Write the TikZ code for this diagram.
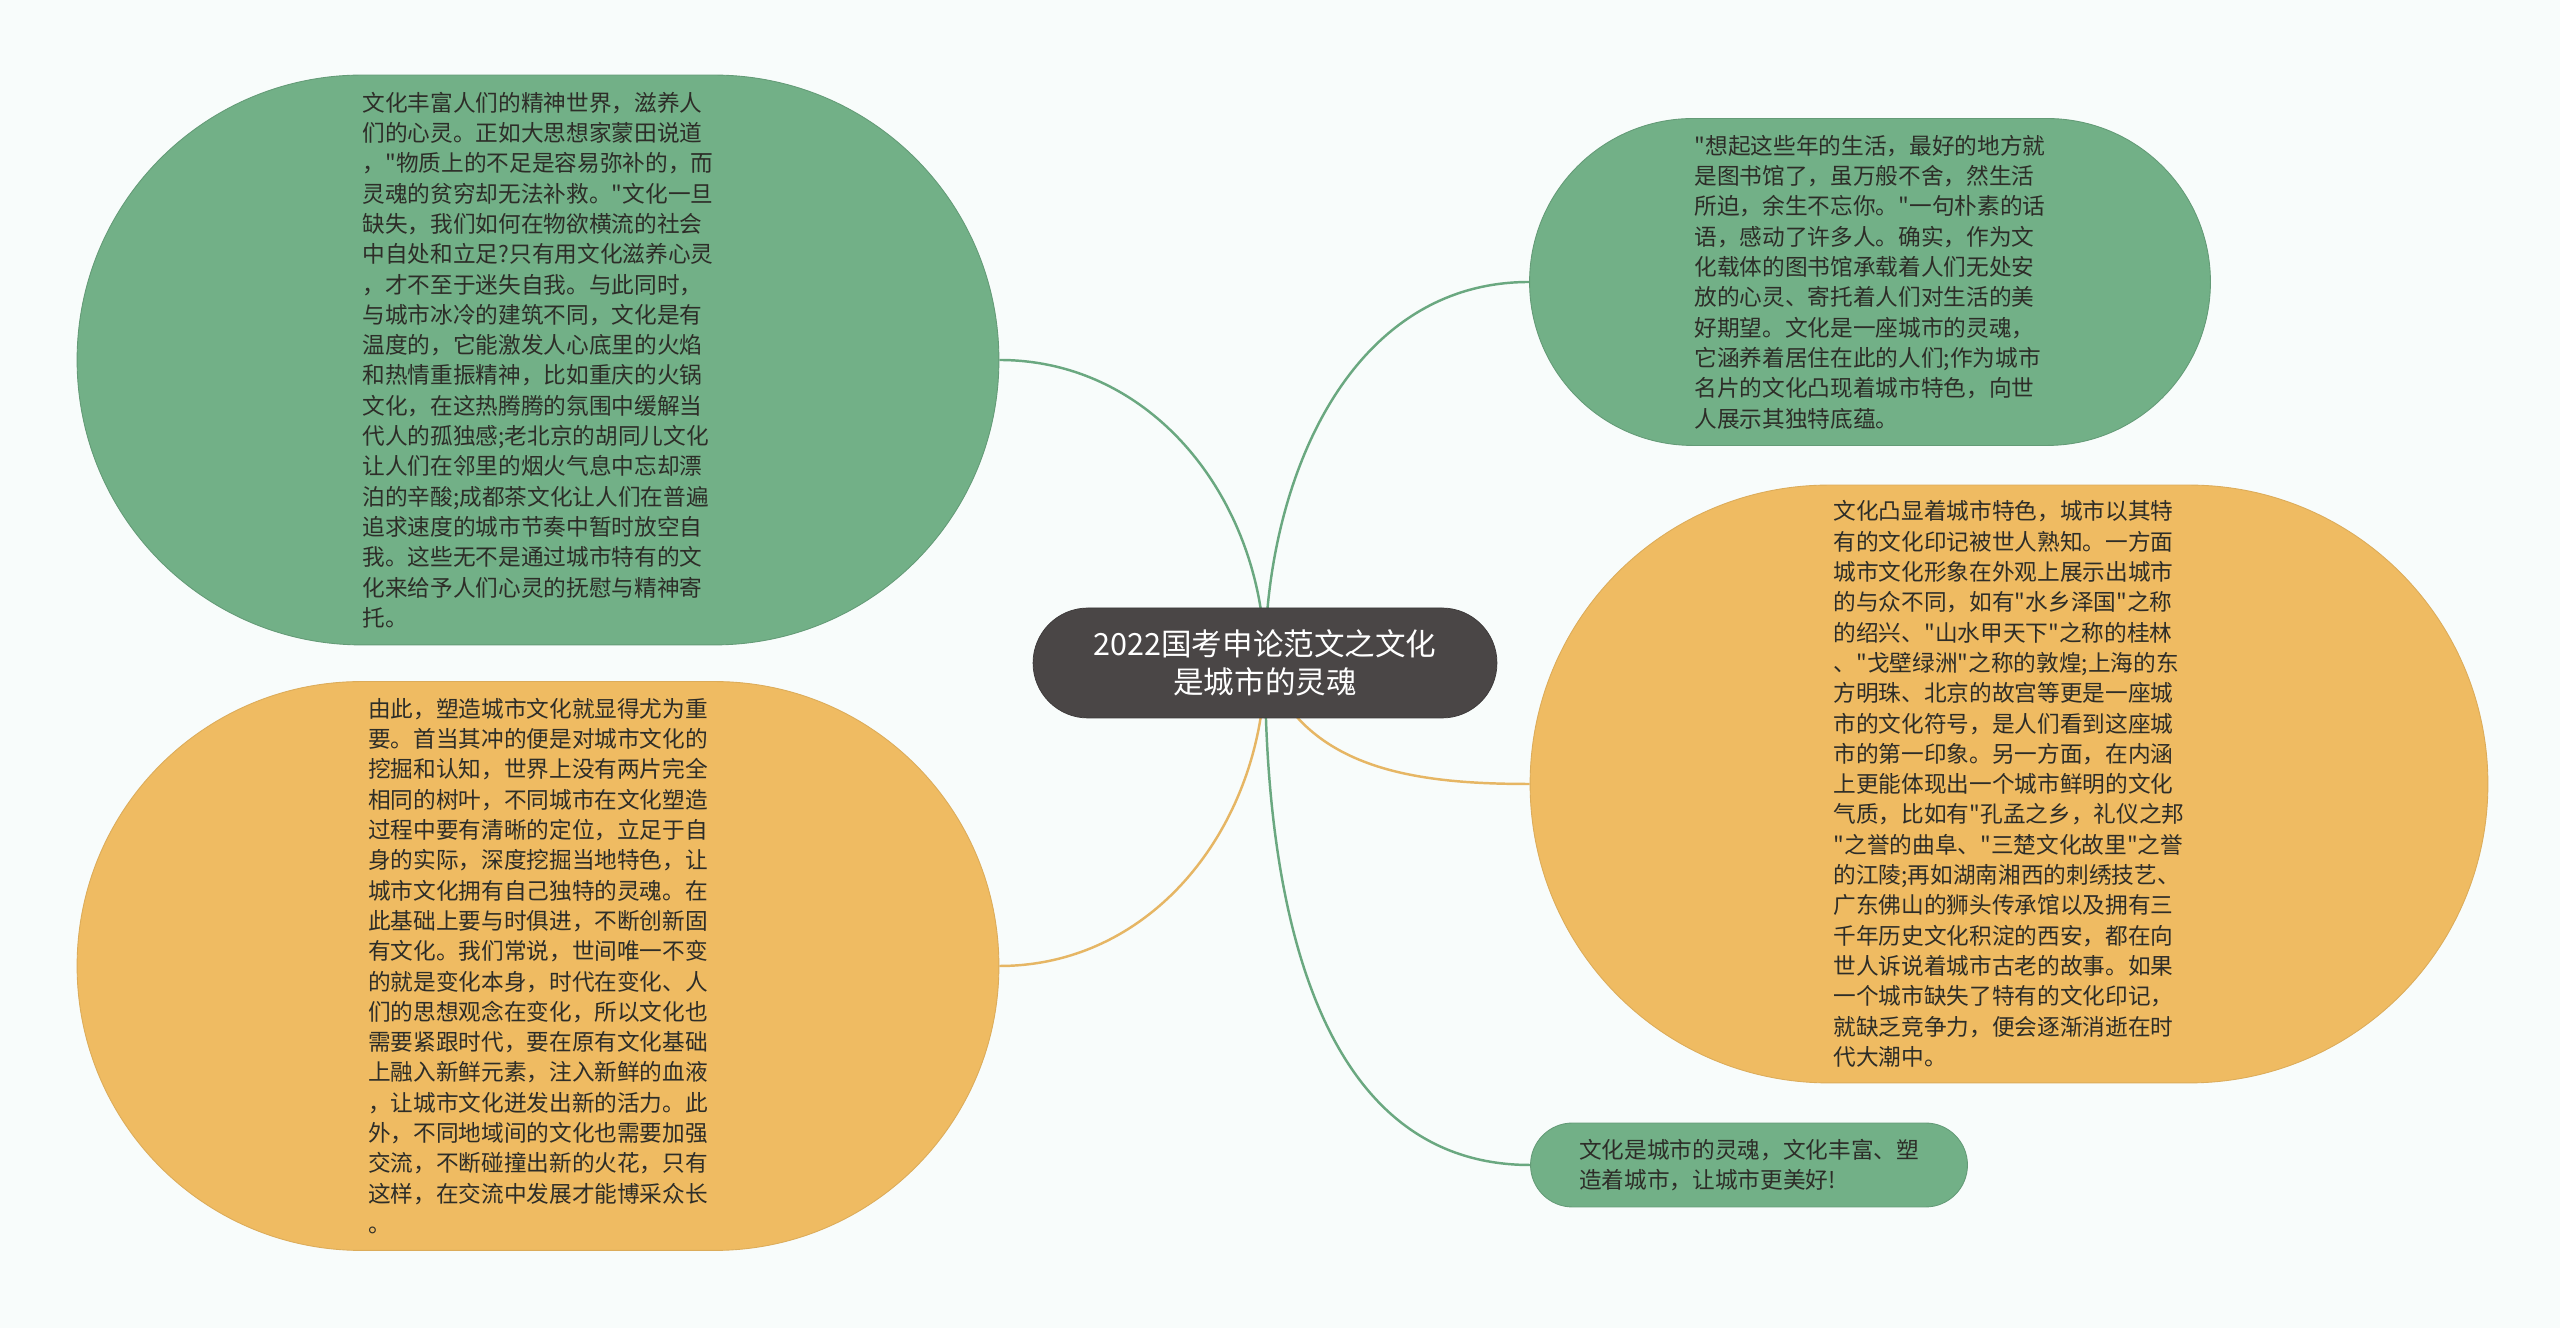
\documentclass[tikz,border=0pt]{standalone}
\usepackage{fontspec}
\setmainfont{Noto Sans CJK SC}[Ligatures=TeXOff]
\usetikzlibrary{shapes.misc, backgrounds}
\definecolor{paper}{RGB}{248,252,251}
\definecolor{leafgreen}{RGB}{114,176,135}
\definecolor{leaforange}{RGB}{239,187,98}
\definecolor{rootgray}{RGB}{74,70,70}
\definecolor{textgray}{RGB}{45,45,40}
\definecolor{linkgreen}{RGB}{106,168,128}
\definecolor{linkorange}{RGB}{230,182,100}

\begin{document}
\begin{tikzpicture}[x=0.02cm, y=0.02cm,
    % Styles
    topic/.style={rounded rectangle, inner sep=0, align=left, text=textgray, font=\fontsize{12.9pt}{17.25pt}\selectfont},
    green topic/.style={topic, fill=leafgreen, draw=leafgreen!88!black, line width=0.5pt},
    orange topic/.style={topic, fill=leaforange, draw=leaforange!92!black, line width=0.5pt},
    main topic/.style={rounded rectangle, inner sep=0, align=center, fill=rootgray, draw=rootgray!80!black, text=white, font=\fontsize{17.4pt}{21.6pt}\selectfont},
    green link/.style={draw=linkgreen, line width=1.4pt},
    orange link/.style={draw=linkorange, line width=1.4pt},
]
    % === Central topic ===
    \node[main topic, minimum width=9.28cm, minimum height=2.2cm] (root) at (1265,665)
        {2022国考申论范文之文化\\是城市的灵魂};

    % === Left branches ===
    \node[green topic, minimum width=18.44cm, minimum height=11.4cm] (soul) at (538,968) {%
        文化丰富人们的精神世界，滋养人\\
        们的心灵。正如大思想家蒙田说道\\
        ，"物质上的不足是容易弥补的，而\\
        灵魂的贫穷却无法补救。"文化一旦\\
        缺失，我们如何在物欲横流的社会\\
        中自处和立足?只有用文化滋养心灵\\
        ，才不至于迷失自我。与此同时，\\
        与城市冰冷的建筑不同，文化是有\\
        温度的，它能激发人心底里的火焰\\
        和热情重振精神，比如重庆的火锅\\
        文化，在这热腾腾的氛围中缓解当\\
        代人的孤独感;老北京的胡同儿文化\\
        让人们在邻里的烟火气息中忘却漂\\
        泊的辛酸;成都茶文化让人们在普遍\\
        追求速度的城市节奏中暂时放空自\\
        我。这些无不是通过城市特有的文\\
        化来给予人们心灵的抚慰与精神寄\\
        托。};
    \node[orange topic, minimum width=18.44cm, minimum height=11.38cm] (shape) at (538,362) {%
        由此，塑造城市文化就显得尤为重\\
        要。首当其冲的便是对城市文化的\\
        挖掘和认知，世界上没有两片完全\\
        相同的树叶，不同城市在文化塑造\\
        过程中要有清晰的定位，立足于自\\
        身的实际，深度挖掘当地特色，让\\
        城市文化拥有自己独特的灵魂。在\\
        此基础上要与时俱进，不断创新固\\
        有文化。我们常说，世间唯一不变\\
        的就是变化本身，时代在变化、人\\
        们的思想观念在变化，所以文化也\\
        需要紧跟时代，要在原有文化基础\\
        上融入新鲜元素，注入新鲜的血液\\
        ，让城市文化迸发出新的活力。此\\
        外，不同地域间的文化也需要加强\\
        交流，不断碰撞出新的火花，只有\\
        这样，在交流中发展才能博采众长\\
        。};

    % === Right branches ===
    \node[green topic, minimum width=13.62cm, minimum height=6.54cm] (library) at (1870,1046) {%
        "想起这些年的生活，最好的地方就\\
        是图书馆了，虽万般不舍，然生活\\
        所迫，余生不忘你。"一句朴素的话\\
        语，感动了许多人。确实，作为文\\
        化载体的图书馆承载着人们无处安\\
        放的心灵、寄托着人们对生活的美\\
        好期望。文化是一座城市的灵魂，\\
        它涵养着居住在此的人们;作为城市\\
        名片的文化凸现着城市特色，向世\\
        人展示其独特底蕴。};
    \node[orange topic, minimum width=19.16cm, minimum height=11.96cm] (feature) at (2009,544) {%
        文化凸显着城市特色，城市以其特\\
        有的文化印记被世人熟知。一方面\\
        城市文化形象在外观上展示出城市\\
        的与众不同，如有"水乡泽国"之称\\
        的绍兴、"山水甲天下"之称的桂林\\
        、"戈壁绿洲"之称的敦煌;上海的东\\
        方明珠、北京的故宫等更是一座城\\
        市的文化符号，是人们看到这座城\\
        市的第一印象。另一方面，在内涵\\
        上更能体现出一个城市鲜明的文化\\
        气质，比如有"孔孟之乡，礼仪之邦\\
        "之誉的曲阜、"三楚文化故里"之誉\\
        的江陵;再如湖南湘西的刺绣技艺、\\
        广东佛山的狮头传承馆以及拥有三\\
        千年历史文化积淀的西安，都在向\\
        世人诉说着城市古老的故事。如果\\
        一个城市缺失了特有的文化印记，\\
        就缺乏竞争力，便会逐渐消逝在时\\
        代大潮中。};
    \node[green topic, minimum width=8.74cm, minimum height=1.68cm] (summary) at (1749,163) {%
        文化是城市的灵魂，文化丰富、塑\\
        造着城市，让城市更美好!};

    % Page and links behind the topics
    \begin{scope}[on background layer]
        \fill[paper] (0,0) rectangle (2560,1328);
        \draw[green link] (root.center) to[out=90, in=0] (soul.east);
        \draw[orange link] (root.center) to[out=-90, in=0] (shape.east);
        \draw[green link] (root.center) to[out=90, in=180] (library.west);
        \draw[orange link] (root.center) to[out=-70, in=180] (feature.west);
        \draw[green link] (root.center) to[out=-90, in=180] (summary.west);
    \end{scope}
\end{tikzpicture}
\end{document}
